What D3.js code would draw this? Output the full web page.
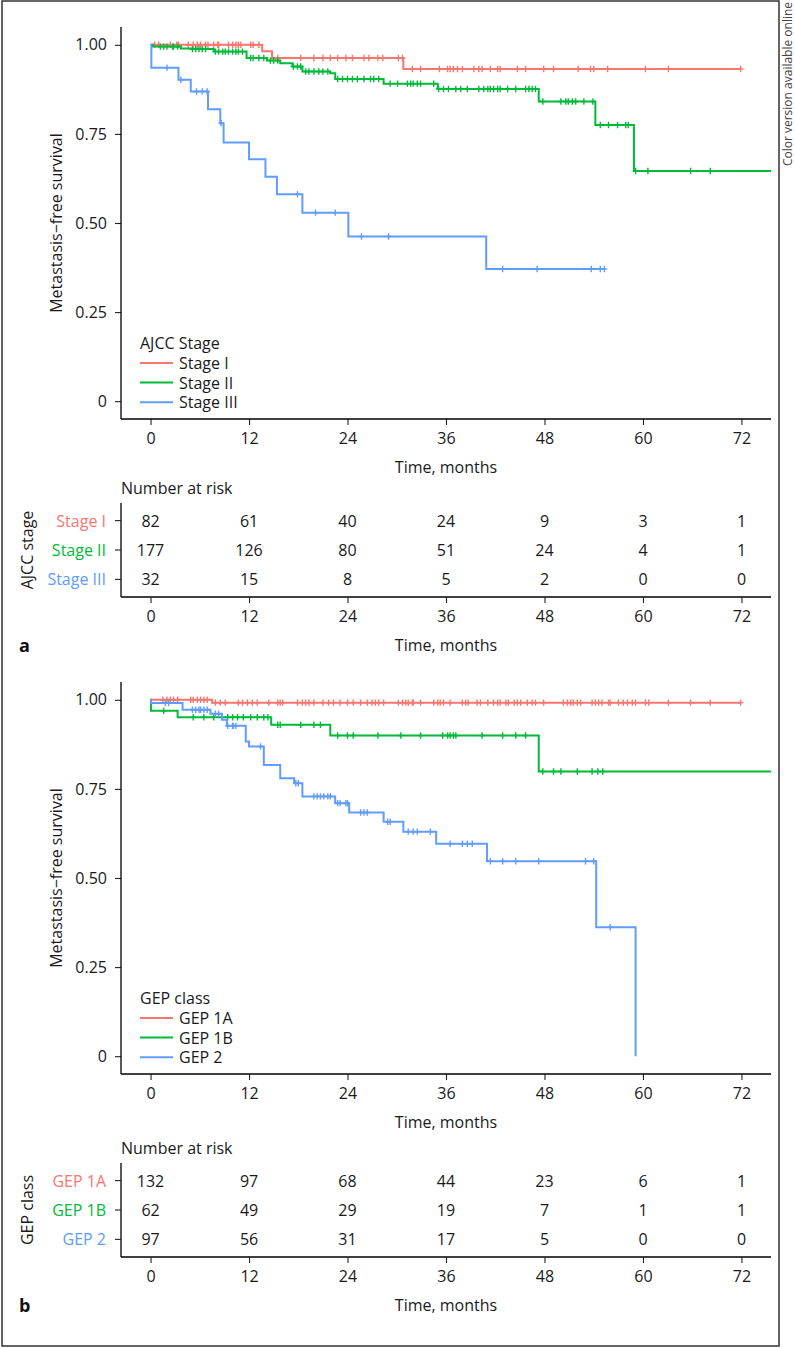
<!DOCTYPE html>
<html><head><meta charset="utf-8">
<script src="https://cdn.jsdelivr.net/npm/d3@7"></script>
<style>
html,body{margin:0;padding:0;background:#fff;}
text{font-family:"Open Sans",sans-serif;}
</style></head>
<body><svg id="chart" width="795" height="1348"></svg>
<script>
// ---------------- DATA ----------------
const xTicks = [0, 12, 24, 36, 48, 60, 72];
const yTicks = [0, 0.25, 0.5, 0.75, 1];
const yTickLabels = ["0", "0.25", "0.50", "0.75", "1.00"];
const colors = ["#F8766D", "#00BA38", "#619CFF"];

// Panel a: AJCC stage
const stageNames = ["Stage I", "Stage II", "Stage III"];
const stageI_times = [0, 13.6, 14.8, 30.8];
const stageI_surv  = [1, 0.982, 0.963, 0.932];
const stageI_end = 71.9;
const stageI_censor = [0.5,1.0,2.4,3.2,3.4,4.6,5.2,5.7,6.1,6.7,7.0,7.7,8.2,8.3,9.5,10.0,10.4,10.7,11.0,12.2,12.5,13.2,15.5,18.3,19.9,21.0,21.9,22.8,23.8,24.6,26.0,26.6,27.7,28.3,30.2,30.7,31.9,32.9,35.2,36.2,36.5,36.9,37.4,38.0,39.4,40.0,40.4,41.4,42.3,42.6,44.7,45.7,47.9,49.1,52.1,53.6,54.0,55.7,60.3,63.1,71.9];

const stageII_times = [0, 0.3, 3.7, 4.9, 7.7, 11.7, 14.2, 15.8, 17.3, 18.5, 21.9, 22.5, 28.4, 35.0, 47.3, 54.2, 58.9];
const stageII_surv  = [1, 0.995, 0.99, 0.988, 0.981, 0.963, 0.956, 0.948, 0.939, 0.925, 0.920, 0.904, 0.891, 0.876, 0.841, 0.775, 0.646];
const stageII_end = 75.6;
const stageII_censor = [1.2,1.6,2.0,2.7,2.8,3.3,5.1,5.5,5.9,6.3,6.7,7.9,8.3,8.8,9.1,9.5,10.0,10.4,10.7,11.2,12.2,12.5,13.2,13.8,14.6,15.0,15.5,17.4,17.9,18.3,18.9,19.3,19.9,20.5,21.0,21.6,22.8,23.4,24.0,24.6,25.2,26.0,26.8,27.2,27.8,29.2,30.1,31.3,31.7,32.0,32.5,32.9,34.5,35.1,35.7,36.3,37.2,37.8,38.6,40.0,40.6,41.1,41.4,41.8,42.3,42.6,43.5,44.5,45.7,46.1,46.5,46.9,47.8,50.0,50.6,50.9,51.4,51.8,52.8,53.9,54.8,55.8,56.9,57.9,58.2,59.1,60.6,65.8,68.2];

const stageIII_times = [0, 0.1, 3.4, 4.9, 7.0, 8.5, 8.9, 12.0, 14.0, 15.4, 18.5, 24.1, 40.9];
const stageIII_surv  = [1, 0.936, 0.902, 0.869, 0.819, 0.780, 0.726, 0.679, 0.630, 0.581, 0.529, 0.462, 0.371];
const stageIII_end = 55.3;
const stageIII_censor = [2.0, 3.7, 5.6, 6.3, 6.9, 8.6, 17.9, 20.1, 22.5, 25.7, 29.0, 42.9, 47.1, 53.7, 54.8, 55.3];

const stageRisk_I   = [82, 61, 40, 24, 9, 3, 1];
const stageRisk_II  = [177, 126, 80, 51, 24, 4, 1];
const stageRisk_III = [32, 15, 8, 5, 2, 0, 0];

// Panel b: GEP class
const gepNames = ["GEP 1A", "GEP 1B", "GEP 2"];
const gep1A_times = [0, 7.5];
const gep1A_surv  = [1, 0.992];
const gep1A_end = 71.9;
const gep1A_censor = [1.5,2.0,2.4,2.8,3.3,4.9,5.2,5.7,6.1,6.5,6.9,7.9,8.5,9.1,10.7,11.2,11.8,12.4,13.0,14.4,15.5,15.8,16.1,17.9,18.5,18.9,19.3,19.9,21.0,21.7,22.3,23.1,24.0,24.7,25.6,26.4,27.0,27.4,27.8,28.4,30.2,30.7,31.1,31.4,31.9,32.0,32.9,34.5,35.0,35.3,35.7,36.5,38.0,38.4,38.7,39.8,40.2,41.1,41.8,42.3,42.6,43.3,43.6,44.3,44.7,45.1,45.9,46.5,46.9,47.9,50.3,50.8,51.2,51.5,52.0,52.4,53.8,54.2,54.6,55.0,55.8,56.0,57.0,57.6,58.1,58.7,59.1,60.3,60.7,63.1,65.8,68.2,71.9];

const gep1B_times = [0, 0.05, 3.3, 14.7, 21.9, 47.3];
const gep1B_surv  = [1, 0.969, 0.951, 0.930, 0.900, 0.799];
const gep1B_end = 75.6;
const gep1B_censor = [1.6,5.2,6.5,7.7,9.4,10.0,10.6,11.3,12.2,13.0,13.8,14.3,15.5,15.8,18.3,19.9,20.7,22.8,24.0,24.7,27.7,30.5,32.9,35.6,36.2,36.5,36.9,37.2,40.4,42.9,44.5,45.7,47.8,49.1,50.0,52.0,53.8,54.5,55.1];

const gep2_times = [0, 0.05, 3.9, 7.3, 8.7, 9.3, 11.6, 12.0, 13.8, 15.8, 17.5, 18.5, 22.5, 24.2, 28.4, 30.8, 34.8, 41.0, 54.3, 59.1];
const gep2_surv  = [1, 0.991, 0.972, 0.961, 0.944, 0.927, 0.883, 0.869, 0.817, 0.780, 0.766, 0.729, 0.710, 0.684, 0.658, 0.630, 0.596, 0.547, 0.362, 0];
const gep2_end = 59.1;
const gep2_censor = [1.8,2.2,5.1,5.5,5.9,6.1,6.5,6.9,7.9,8.3,9.4,10.0,10.1,10.4,13.4,17.7,18.0,19.9,20.3,20.7,21.1,21.6,21.9,22.8,23.1,23.8,24.0,25.6,26.0,26.4,28.9,29.2,31.4,32.0,32.5,34.1,36.5,38.0,38.6,39.2,41.4,42.9,44.5,47.3,53.0,54.0,56.0];

const gepRisk_1A = [132, 97, 68, 44, 23, 6, 1];
const gepRisk_1B = [62, 49, 29, 19, 7, 1, 1];
const gepRisk_2  = [97, 56, 31, 17, 5, 0, 0];

// ---------------- DRAW ----------------
const svg = d3.select("#chart");
const FS = 16;
const TXT = "#1a1a1a";

svg.append("rect").attr("x", 2).attr("y", 1).attr("width", 777).attr("height", 1345)
  .attr("fill", "none").attr("stroke", "#333").attr("stroke-width", 1.5);

svg.append("text").attr("transform", "translate(787,84) rotate(-90)")
  .attr("text-anchor", "middle").attr("dominant-baseline", "central")
  .attr("font-size", 12).attr("fill", "#444").text("Color version available online");

const x = d3.scaleLinear().domain([-3.6, 75.6]).range([121, 771]);

function stepVal(times, surv, t) {
  let v = surv[0];
  for (let i = 0; i < times.length; i++) if (times[i] <= t) v = surv[i];
  return v;
}

function drawPanel(p) {
  const y = d3.scaleLinear().domain([-0.05, 1.05]).range([p.bottom, p.top]);
  const g = svg.append("g");
  // axes
  const yAxis = d3.axisLeft(y).tickValues(yTicks).tickFormat((d, i) => yTickLabels[i]).tickSize(6).tickPadding(8);
  const ya = g.append("g").attr("transform", "translate(121,0)").call(yAxis);
  const xAxis = d3.axisBottom(x).tickValues(xTicks).tickSize(6).tickPadding(8);
  const xa = g.append("g").attr("transform", `translate(0,${p.bottom})`).call(xAxis);
  [ya, xa].forEach(a => {
    a.select(".domain").attr("d", null);
    a.selectAll("text").attr("font-size", FS).attr("fill", TXT).attr("font-family", "Open Sans");
    a.selectAll(".tick line").attr("stroke", "#222").attr("stroke-width", 1.1);
  });
  g.append("line").attr("x1", 121).attr("x2", 121).attr("y1", p.top).attr("y2", p.bottom).attr("stroke", "#000").attr("stroke-width", 1.3);
  g.append("line").attr("x1", 121).attr("x2", 771).attr("y1", p.bottom).attr("y2", p.bottom).attr("stroke", "#000").attr("stroke-width", 1.3);

  g.append("text").attr("transform", `translate(56,${(p.top + p.bottom) / 2}) rotate(-90)`)
    .attr("text-anchor", "middle").attr("dominant-baseline", "central").attr("font-size", FS).attr("fill", TXT)
    .text("Metastasis\u2212free survival");
  g.append("text").attr("x", 446).attr("y", p.bottom + 48).attr("text-anchor", "middle")
    .attr("dominant-baseline", "central").attr("font-size", FS).attr("fill", TXT).text("Time, months");

  // curves
  const line = d3.line().x(d => x(d[0])).y(d => y(d[1])).curve(d3.curveStepAfter);
  p.series.forEach((s, i) => {
    const pts = s.times.map((t, j) => [t, s.surv[j]]);
    pts.push([s.end, s.surv[s.surv.length - 1]]);
    g.append("path").attr("d", line(pts)).attr("fill", "none").attr("stroke", colors[i]).attr("stroke-width", 2);
    g.append("g").selectAll("path").data(s.censor).join("path")
      .attr("transform", t => `translate(${x(t)},${y(stepVal(s.times, s.surv, t))})`)
      .attr("d", "M-2.8,0H2.8M0,-3.2V3.2").attr("stroke", colors[i]).attr("stroke-width", 1.4).attr("fill", "none");
  });

  // legend
  const ly = p.bottom - 76;
  g.append("text").attr("x", 140).attr("y", ly).attr("dominant-baseline", "central").attr("font-size", FS).attr("fill", TXT).text(p.legendTitle);
  p.names.forEach((n, i) => {
    const yy = ly + 20 + i * 19.6;
    g.append("line").attr("x1", 140).attr("x2", 173).attr("y1", yy).attr("y2", yy).attr("stroke", colors[i]).attr("stroke-width", 2);
    g.append("text").attr("x", 179).attr("y", yy).attr("dominant-baseline", "central").attr("font-size", FS).attr("fill", TXT).text(n);
  });

  // risk table
  const rows = d3.scaleBand().domain(p.names).range([p.tTop, p.tBottom]).paddingOuter(0.1).paddingInner(0);
  const rowY = n => rows(n) + rows.bandwidth() / 2;
  g.append("text").attr("x", 121).attr("y", p.tTop - 15).attr("dominant-baseline", "central").attr("font-size", FS).attr("fill", TXT).text("Number at risk");
  g.append("line").attr("x1", 121).attr("x2", 121).attr("y1", p.tTop).attr("y2", p.tBottom).attr("stroke", "#000").attr("stroke-width", 1.3);
  g.append("line").attr("x1", 121).attr("x2", 771).attr("y1", p.tBottom).attr("y2", p.tBottom).attr("stroke", "#000").attr("stroke-width", 1.3);
  const txa = g.append("g").attr("transform", `translate(0,${p.tBottom})`).call(xAxis);
  txa.select(".domain").attr("d", null);
  txa.selectAll("text").attr("font-size", FS).attr("fill", TXT).attr("font-family", "Open Sans");
  txa.selectAll(".tick line").attr("stroke", "#222").attr("stroke-width", 1.1);
  p.names.forEach((n, i) => {
    const yy = rowY(n);
    g.append("line").attr("x1", 115).attr("x2", 121).attr("y1", yy).attr("y2", yy).attr("stroke", "#222").attr("stroke-width", 1.1);
    g.append("text").attr("x", 106).attr("y", yy).attr("text-anchor", "end").attr("dominant-baseline", "central")
      .attr("font-size", FS).attr("fill", colors[i]).text(n);
    p.risk[i].forEach((v, j) => {
      g.append("text").attr("x", x(xTicks[j])).attr("y", yy).attr("text-anchor", "middle").attr("dominant-baseline", "central")
        .attr("font-size", FS).attr("fill", TXT).text(v);
    });
  });
  g.append("text").attr("transform", `translate(27,${(p.tTop + p.tBottom) / 2}) rotate(-90)`)
    .attr("text-anchor", "middle").attr("dominant-baseline", "central").attr("font-size", FS).attr("fill", TXT).text(p.tableTitle);
  g.append("text").attr("x", 446).attr("y", p.tBottom + 48).attr("text-anchor", "middle")
    .attr("dominant-baseline", "central").attr("font-size", FS).attr("fill", TXT).text("Time, months");
  g.append("text").attr("x", 19).attr("y", p.tBottom + 48).attr("dominant-baseline", "central")
    .attr("font-size", 18).attr("font-weight", "bold").attr("fill", "#111").text(p.letter);
}

drawPanel({
  top: 27, bottom: 419, tTop: 503, tBottom: 597, letter: "a",
  legendTitle: "AJCC Stage", tableTitle: "AJCC stage", names: stageNames,
  series: [
    {times: stageI_times, surv: stageI_surv, end: stageI_end, censor: stageI_censor},
    {times: stageII_times, surv: stageII_surv, end: stageII_end, censor: stageII_censor},
    {times: stageIII_times, surv: stageIII_surv, end: stageIII_end, censor: stageIII_censor}
  ],
  risk: [stageRisk_I, stageRisk_II, stageRisk_III]
});
drawPanel({
  top: 682, bottom: 1074, tTop: 1163, tBottom: 1257, letter: "b",
  legendTitle: "GEP class", tableTitle: "GEP class", names: gepNames,
  series: [
    {times: gep1A_times, surv: gep1A_surv, end: gep1A_end, censor: gep1A_censor},
    {times: gep1B_times, surv: gep1B_surv, end: gep1B_end, censor: gep1B_censor},
    {times: gep2_times, surv: gep2_surv, end: gep2_end, censor: gep2_censor}
  ],
  risk: [gepRisk_1A, gepRisk_1B, gepRisk_2]
});
</script></body></html>
